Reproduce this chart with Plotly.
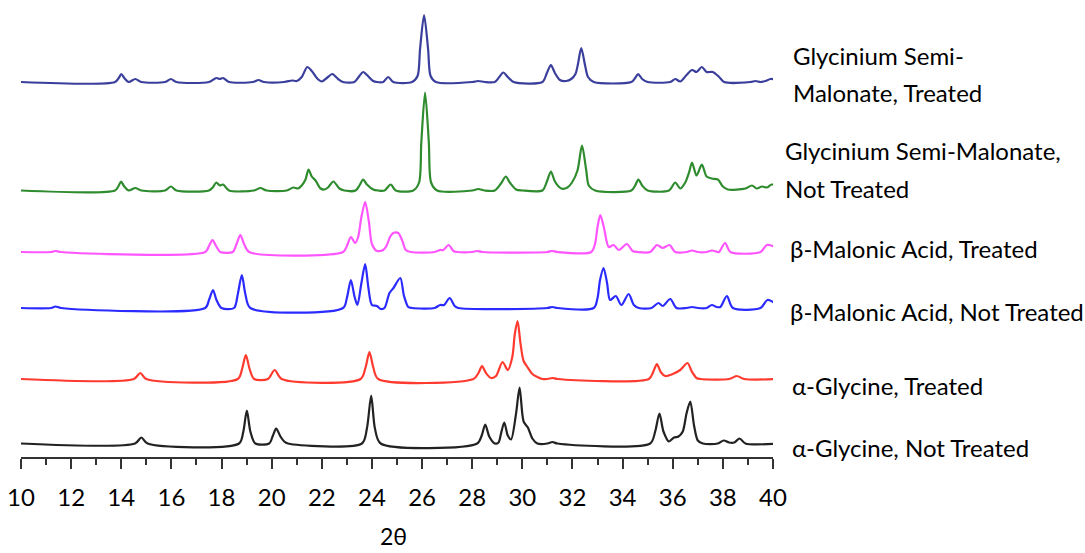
import plotly.graph_objects as go

# 2-theta axis
x_min, x_max = 10, 40
tick_vals = list(range(10, 41, 2))

series_names = [
    "Glycinium Semi-Malonate, Treated",
    "Glycinium Semi-Malonate, Not Treated",
    "β-Malonic Acid, Treated",
    "β-Malonic Acid, Not Treated",
    "α-Glycine, Treated",
    "α-Glycine, Not Treated",
]

# vertical offsets of each pattern (arbitrary intensity units)
offsets = [375, 266.5, 205, 149, 78, 13.5]

# (2theta, intensity) points
gsm_treated = [
    (10, 0), (13.75, 0), (13.9, 4), (14.0, 8), (14.12, 4), (14.3, 0), (14.56, 3), (14.8, 0),
    (15.75, 0), (15.98, 3), (16.2, 0), (17.5, 0), (17.79, 4), (17.93, 3), (18.06, 4), (18.3, 0),
    (19.25, 0), (19.47, 2), (19.7, 0), (20.5, 0), (20.82, 1.5), (21.0, 1), (21.2, 5), (21.42, 15),
    (21.6, 11), (21.8, 4), (22.0, 0.5), (22.2, 4), (22.42, 8), (22.65, 3), (22.85, 0), (23.3, 0),
    (23.5, 6), (23.65, 10), (23.8, 7), (24.05, 1), (24.2, 0), (24.45, 0), (24.65, 5), (24.85, 0),
    (25.6, 0), (25.82, 6), (25.92, 33), (26.08, 67), (26.24, 33), (26.34, 6), (26.55, 0),
    (28.0, 0), (28.24, 1), (28.5, 0), (28.9, 0), (29.08, 5), (29.24, 9.5), (29.42, 5), (29.65, 0),
    (30.8, 0), (30.98, 9), (31.14, 17), (31.3, 9), (31.5, 2), (31.75, 1), (31.95, 3), (32.12, 8),
    (32.22, 18), (32.35, 34), (32.5, 17), (32.62, 5), (32.85, 0), (34.35, 0), (34.5, 4),
    (34.62, 8), (34.78, 3), (35.0, 0), (35.9, 0), (36.1, 3), (36.3, 0.5), (36.55, 7), (36.77, 12),
    (36.95, 10), (37.16, 15), (37.35, 10), (37.6, 10), (37.85, 5), (38.05, 0), (39.1, 0),
    (39.3, 1), (39.5, 0), (39.7, 1), (39.9, 3), (40.2, 2),
]

gsm_not_treated = [
    (10, 0), (13.75, 0), (13.88, 4), (13.99, 9), (14.12, 4), (14.3, 0), (14.56, 2.5), (14.8, 0),
    (15.75, 0), (15.98, 4), (16.2, 0), (17.5, 0), (17.65, 3), (17.79, 8), (17.93, 5), (18.06, 6),
    (18.3, 0), (19.3, 0), (19.55, 2.5), (19.8, 0), (20.6, 0), (20.86, 3), (21.05, 2), (21.2, 5),
    (21.35, 11), (21.47, 21), (21.6, 14), (21.75, 10), (21.95, 2), (22.1, 1), (22.25, 3),
    (22.46, 9), (22.7, 2), (22.9, 0), (23.35, 0), (23.5, 5), (23.65, 11), (23.8, 6), (24.05, 1),
    (24.25, 0), (24.5, 0), (24.75, 6), (24.95, 0), (25.65, 0), (25.88, 8), (25.97, 48),
    (26.12, 98), (26.27, 48), (26.36, 8), (26.6, 0), (28.0, 0), (28.24, 1.5), (28.5, 0),
    (28.9, 0), (29.15, 7), (29.34, 14), (29.5, 8), (29.75, 1), (30.0, 0), (30.8, 0), (30.98, 9),
    (31.14, 19), (31.3, 9), (31.55, 2), (31.8, 3), (31.98, 8), (32.2, 20), (32.38, 45),
    (32.55, 20), (32.65, 5), (32.9, 0), (34.35, 0), (34.5, 5), (34.63, 11), (34.78, 5), (35.0, 0),
    (35.85, 0), (36.1, 8), (36.3, 2), (36.5, 8), (36.65, 18), (36.77, 28), (36.95, 15),
    (37.16, 26), (37.35, 14), (37.55, 12), (37.8, 11), (38.0, 4), (38.2, 1), (38.9, 2),
    (39.16, 5), (39.35, 2), (39.56, 4), (39.75, 3), (39.95, 6), (40.2, 4),
]

bma_treated = [
    (10, 0), (11.2, 0), (11.37, 1), (11.6, 0), (17.35, 0), (17.5, 6), (17.64, 12), (17.78, 6),
    (17.95, 0), (18.45, 0), (18.6, 8), (18.75, 17), (18.9, 8), (19.1, 0), (22.85, 0), (23.0, 6),
    (23.16, 15), (23.33, 9), (23.45, 15), (23.58, 35), (23.73, 50), (23.88, 30), (24.0, 8),
    (24.2, 1), (24.45, 2), (24.58, 6), (24.72, 15), (24.85, 19), (25.05, 19), (25.2, 12),
    (25.35, 2), (25.55, 0), (26.5, 0), (26.72, 2), (26.85, 2), (27.06, 7), (27.25, 1), (27.4, 0),
    (28.0, 0), (28.19, 1), (28.4, 0), (31.0, 0), (31.18, 1), (31.4, 0), (32.75, 0), (32.9, 8),
    (33.0, 25), (33.11, 37), (33.25, 25), (33.45, 5), (33.64, 7), (33.85, 2), (34.17, 8),
    (34.4, 1), (34.6, 0), (35.1, 0), (35.37, 7), (35.6, 4), (35.87, 7), (36.1, 0), (36.55, 0),
    (36.77, 1.5), (37.0, 0), (37.35, 0), (37.56, 1.5), (37.8, 0), (37.85, 0), (38.09, 9),
    (38.3, 0), (39.5, 0), (39.76, 7), (40.2, 4),
]

bma_not_treated = [
    (10, 0), (11.2, 0), (11.37, 1.5), (11.6, 0), (17.35, 0), (17.5, 8), (17.66, 18), (17.8, 8),
    (18.0, 0), (18.5, 0), (18.65, 14), (18.81, 33), (18.95, 14), (19.15, 0), (22.85, 0),
    (23.0, 10), (23.16, 28), (23.3, 12), (23.42, 3), (23.58, 25), (23.73, 44), (23.86, 20),
    (24.0, 3), (24.2, 2), (24.35, -1), (24.5, 0), (24.7, 15), (24.86, 20), (25.13, 30),
    (25.28, 12), (25.45, 1), (25.6, 0), (26.5, 0), (26.72, 3), (26.88, 3), (27.1, 10), (27.3, 2),
    (27.45, 0), (31.0, 0), (31.2, 1), (31.4, 0), (32.85, 0), (33.0, 10), (33.1, 28), (33.24, 40),
    (33.38, 25), (33.5, 8), (33.73, 12), (33.95, 3), (34.24, 14), (34.45, 3), (34.65, 0),
    (35.15, 0), (35.43, 5), (35.6, 2), (35.9, 9), (36.15, 0), (36.55, 0), (36.77, 1), (37.0, 0),
    (37.35, 0), (37.56, 3), (37.75, 1), (37.9, 1), (38.16, 12), (38.4, 0), (39.5, 0), (39.78, 8),
    (40.2, 3),
]

agly_treated = [
    (10, 0), (14.5, 0), (14.76, 6), (15.0, 0), (18.65, 0), (18.82, 10), (18.97, 24), (19.12, 10),
    (19.3, 0), (19.85, 0), (20.12, 9), (20.4, 0), (23.55, 0), (23.75, 12), (23.9, 27),
    (24.05, 12), (24.25, 0), (28.05, 0), (28.25, 6), (28.39, 13), (28.55, 6), (28.75, 1),
    (28.95, 3), (29.21, 17), (29.42, 9), (29.6, 22), (29.7, 45), (29.81, 58), (29.93, 35),
    (30.05, 18), (30.2, 12), (30.4, 5), (30.6, 2), (30.8, 0), (31.0, 0), (31.2, 1), (31.4, 0),
    (35.05, 0), (35.22, 7), (35.37, 15), (35.52, 7), (35.7, 3), (36.0, 5), (36.3, 9), (36.59, 16),
    (36.75, 8), (36.95, 1), (37.1, 0), (38.25, 0), (38.56, 3), (38.85, 0), (40.2, 0),
]

agly_not_treated = [
    (10, 0), (14.55, 0), (14.8, 6), (15.05, 0), (18.7, 0), (18.87, 12), (19.01, 33), (19.15, 12),
    (19.35, 0), (19.9, 0), (20.05, 8), (20.18, 15), (20.35, 7), (20.5, 2), (20.65, 0), (23.6, 0),
    (23.8, 15), (23.97, 48), (24.12, 15), (24.35, 0), (28.2, 0), (28.38, 8), (28.52, 19),
    (28.68, 7), (28.9, 0), (29.05, 1), (29.15, 10), (29.28, 21), (29.42, 8), (29.55, 4),
    (29.75, 30), (29.89, 56), (30.05, 22), (30.22, 16), (30.4, 5), (30.6, 0), (31.0, 0),
    (31.2, 1.5), (31.4, 0), (35.1, 0), (35.3, 12), (35.47, 30), (35.63, 12), (35.85, 2),
    (36.05, 6), (36.23, 7), (36.4, 12), (36.55, 30), (36.7, 42), (36.85, 18), (37.0, 3),
    (37.2, 0), (37.8, 0), (38.03, 3), (38.25, 1), (38.45, 1), (38.67, 5), (38.9, 0), (40.2, 0),
]

patterns = [gsm_treated, gsm_not_treated, bma_treated, bma_not_treated, agly_treated, agly_not_treated]
colors = ["#3b3f9c", "#2e8b2e", "#ff55ff", "#2b2bff", "#ff3b30", "#222222"]

# label lines and their anchor rows (pixel-like intensity units)
label_lines = [
    ("Glycinium Semi-", 1.024, 402),
    ("Malonate, Treated", 1.024, 365),
    ("Glycinium Semi-Malonate,", 1.013, 307),
    ("Not Treated", 1.013, 269),
    ("β-Malonic Acid, Treated", 1.020, 209),
    ("β-Malonic Acid, Not Treated", 1.020, 146),
    ("α-Glycine, Treated", 1.023, 72),
    ("α-Glycine, Not Treated", 1.023, 10),
]

fig = go.Figure()
for name, pts, off, col in zip(series_names, patterns, offsets, colors):
    fig.add_trace(go.Scatter(
        x=[p[0] for p in pts],
        y=[p[1] + off for p in pts],
        mode="lines",
        name=name,
        line=dict(color=col, width=2.2, shape="spline", smoothing=0.8),
        showlegend=False,
    ))

font_family = "Lato, 'Open Sans', sans-serif"
for text, xp, yv in label_lines:
    fig.add_annotation(
        x=xp, xref="paper", y=yv, yref="y", text=text, showarrow=False,
        xanchor="left", yanchor="middle",
        font=dict(family=font_family, size=24, color="black"),
    )

fig.add_annotation(
    x=0.496, xref="paper", y=-0.172, yref="paper", text="2θ", showarrow=False,
    xanchor="center", yanchor="middle",
    font=dict(family=font_family, size=23, color="black"),
)

fig.update_layout(
    width=1085, height=553,
    margin=dict(l=21, r=312, t=0, b=96),
    paper_bgcolor="white", plot_bgcolor="white",
    xaxis=dict(
        range=[x_min, x_max], tickvals=tick_vals, showgrid=False, zeroline=False,
        showline=True, linecolor="#333333", linewidth=1.5,
        ticks="outside", ticklen=10, tickwidth=1.5, tickcolor="#333333",
        ticklabelstandoff=8,
        tickfont=dict(family=font_family, size=24, color="black"),
        minor=dict(dtick=1, tick0=10, ticks="outside", ticklen=6, tickwidth=1.5, tickcolor="#333333"),
    ),
    yaxis=dict(range=[0, 457], visible=False, showgrid=False, zeroline=False),
)

fig.write_html("out.html")
